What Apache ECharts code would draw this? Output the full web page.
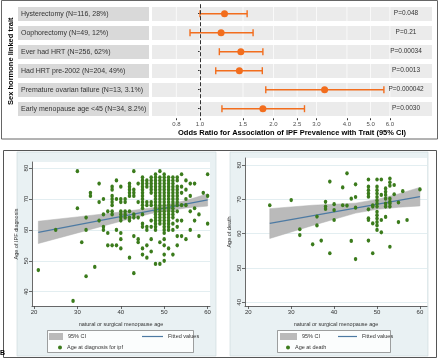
<!DOCTYPE html>
<html>
<head>
<meta charset="utf-8">
<script src="https://cdn.jsdelivr.net/npm/echarts@6/dist/echarts.min.js"></script>
<style>
html,body{margin:0;padding:0;background:#fff}
#main{width:440px;height:360px}
</style>
</head>
<body>
<div id="main"></div>
<script>
// panel A: odds ratios
var traits = [
    'Hysterectomy (N=116, 28%)',
    'Oophorectomy (N=49, 12%)',
    'Ever had HRT (N=256, 62%)',
    'Had HRT pre-2002 (N=204, 49%)',
    'Premature ovarian failure (N=13, 3.1%)',
    'Early menopause age <45 (N=34, 8.2%)'
];
var orEst = [1.26, 1.22, 1.47, 1.45, 3.24, 1.81];
var ciLow = [1.00, 0.91, 1.20, 1.16, 1.86, 1.23];
var ciHigh = [1.56, 1.65, 1.81, 1.80, 5.67, 2.68];
var pVals = ['P=0.048', 'P=0.21', 'P=0.00034', 'P=0.0013', 'P=0.000042', 'P=0.0030'];
var orTicks = [0.8, 1.0, 1.5, 2.0, 2.5, 3.0, 4.0, 5.0, 6.0];

// panel B: menopause age vs age at diagnosis / death
var ageTicks = [20, 30, 40, 50, 60];
var yTicks = [40, 50, 60, 70, 80];
var diagCols = [
    [21, [47]],
    [25, [60]],
    [29, [37]],
    [30, [79, 67]],
    [31, [56]],
    [32, [64, 60, 45]],
    [33, [72, 71]],
    [34, [48]],
    [35, [75, 69, 63]],
    [36, [70, 65, 61, 60]],
    [37, [66, 59, 55]],
    [38, [74, 73, 71, 70, 69, 68, 66, 65, 55]],
    [39, [76, 70, 60, 55]],
    [40, [74, 70, 69, 66, 65, 64, 63, 59, 57, 54]],
    [41, [70, 69, 66, 65, 64]],
    [42, [75, 74, 73, 72, 71, 66, 64, 63, 51]],
    [43, [79, 73, 72, 71, 65, 64, 58, 46]],
    [44, [75, 69, 64, 57, 56]],
    [45, [77, 76, 75, 74, 73, 72, 71, 70, 69, 68, 67, 65, 62, 61, 54, 52]],
    [46, [76, 75, 74, 69, 68, 61, 60, 55, 51]],
    [47, [77, 76, 75, 74, 73, 72, 69, 68, 63, 61, 57, 53]],
    [48, [78, 77, 76, 75, 74, 73, 72, 71, 70, 69, 68, 67, 66, 65, 64, 63, 62, 61, 60, 49]],
    [49, [79, 77, 76, 75, 74, 73, 72, 71, 70, 69, 68, 67, 66, 65, 64, 63, 62, 56, 49]],
    [50, [78, 77, 76, 75, 74, 73, 72, 71, 70, 69, 68, 67, 66, 65, 64, 63, 62, 61, 60, 59, 57, 55, 52, 50]],
    [51, [77, 76, 75, 74, 73, 72, 71, 70, 69, 68, 67, 66, 65, 64, 63, 62, 61, 60, 54]],
    [52, [77, 76, 75, 74, 73, 72, 71, 70, 69, 68, 67, 66, 65, 64, 62, 60, 52]],
    [53, [77, 76, 74, 73, 72, 71, 70, 69, 68, 66, 63, 61, 58, 55]],
    [54, [78, 74, 72, 68, 63, 58]],
    [55, [76, 73, 70, 68, 57]],
    [56, [75, 71, 66, 60]],
    [57, [75, 67, 63]],
    [58, [65, 58]],
    [59, [72]],
    [60, [78, 71, 62]]
];
var deathCols = [
    [25, [68.3]],
    [30, [69.8]],
    [32, [61.3, 59.6]],
    [35, [56.9]],
    [36, [65.0, 62.4]],
    [37, [58.0]],
    [38, [69.3, 67.9, 67.2]],
    [39, [75.2, 54.3]],
    [40, [68.6, 66.9, 64.0]],
    [42, [73.5, 68.3]],
    [43, [77.6, 68.2]],
    [44, [70.2, 57.9]],
    [45, [74.4, 70.7, 67.6, 52.6]],
    [48, [75.8, 73.7, 72.7, 71.7, 70.8, 67.1, 64.5, 64.0, 58.0]],
    [49, [68.3, 67.9, 63.0, 54.3]],
    [50, [75.8, 73.7, 72.7, 71.7, 70.7, 69.7, 68.8, 67.9, 66.4, 65.4, 64.4, 63.4, 62.4, 61.1]],
    [51, [75.8, 71.3, 64.0, 60.4]],
    [52, [73.2, 72.2, 71.3, 70.2, 68.8, 67.9, 64.9]],
    [53, [76.1, 75.0, 74.0, 70.2, 69.3, 68.8, 67.9, 56.2]],
    [54, [74.2, 71.5]],
    [55, [69.1, 63.4]],
    [56, [72.4]],
    [57, [64.0]],
    [60, [72.9]]
];
var fitXL = [21, 60];
var fitYL = [59.2, 69.7];
var ciXL = [21, 30, 40, 47, 55, 60];
var ciLoL = [55.6, 59.0, 62.8, 65.3, 67.1, 67.7];
var ciHiL = [62.8, 64.2, 65.8, 67.1, 69.5, 71.7];
var fitXR = [25, 60];
var fitYR = [63.0, 70.8];
var ciXR = [25, 35, 45, 50, 55, 60];
var ciLoR = [58.6, 62.4, 66.0, 67.1, 67.7, 68.1];
var ciHiR = [67.3, 68.3, 68.9, 70.0, 71.6, 73.5];

var orange = '#f26d1d';
var green = '#3b7b1c';
var fitBlue = '#4d7aa3';
var bandGrey = '#bababa';
var font = 'Liberation Sans, Arial, sans-serif';

function flatten(cols) {
    var out = [];
    cols.forEach(function (c) {
        c[1].forEach(function (v) { out.push([c[0], v]); });
    });
    return out;
}
function pairs(xs, ys) {
    return xs.map(function (x, i) { return [x, ys[i]]; });
}
// CI band as one polygon: upper edge left->right, lower edge back
function bandSeries(idx, xs, lo, hi) {
    return {
        type: 'custom', xAxisIndex: idx, yAxisIndex: idx, z: 1, silent: true,
        data: xs.map(function (x, i) { return [x, lo[i], hi[i]]; }),
        encode: {x: 0, y: [1, 2]},
        renderItem: function (params, api) {
            if (params.dataIndex !== 0) return null;
            var top = xs.map(function (x, i) { return api.coord([x, hi[i]]); });
            var bot = xs.map(function (x, i) { return api.coord([x, lo[i]]); }).reverse();
            return {
                type: 'polygon',
                shape: {points: top.concat(bot)},
                style: {fill: bandGrey, stroke: '#b0b0b0', lineWidth: 0.5}
            };
        }
    };
}

var lnTicks = orTicks.map(Math.log);

var stataX = function (idx, min, max) {
    return {
        type: 'value', gridIndex: idx, min: min, max: max,
        axisLine: {onZero: false, lineStyle: {color: '#444', width: 0.8}},
        axisTick: {length: 3, customValues: ageTicks, lineStyle: {color: '#444', width: 0.8}},
        axisLabel: {customValues: ageTicks, fontSize: 6, color: '#333', margin: 3, fontFamily: font},
        splitLine: {show: false},
        name: 'natural or surgical menopause age', nameLocation: 'middle', nameGap: 15,
        nameTextStyle: {fontSize: 5.5, color: '#333', fontFamily: font}
    };
};
var stataY = function (idx, min, max, title, gap) {
    return {
        type: 'value', gridIndex: idx, min: min, max: max,
        axisLine: {show: true, onZero: false, lineStyle: {color: '#444', width: 0.8}},
        axisTick: {show: true, length: 3, customValues: yTicks, lineStyle: {color: '#444', width: 0.8}},
        axisLabel: {customValues: yTicks, rotate: 90, fontSize: 6, color: '#333', margin: 3, fontFamily: font},
        splitLine: {show: true, lineStyle: {color: '#e3eef1', width: 1}},
        name: title, nameLocation: 'middle', nameGap: gap, nameRotate: 90,
        nameTextStyle: {fontSize: 5.5, color: '#333', fontFamily: font}
    };
};

var legendItem = function (name, left, top, icon, w, h, color) {
    var d = {name: name, icon: icon};
    if (color) d.itemStyle = {color: color};
    return {
        left: left, top: top, padding: 0, selectedMode: false,
        itemWidth: w, itemHeight: h,
        textStyle: {fontSize: 5.5, color: '#333', fontFamily: font, lineHeight: 7},
        data: [d]
    };
};

var option = {
    animation: false,
    textStyle: {fontFamily: font},
    graphic: [
        {type: 'rect', z: -1, silent: true, shape: {x: 17, y: 152, width: 199, height: 204}, style: {fill: '#e9f1f3', stroke: '#c9d7da', lineWidth: 0.6}},
        {type: 'rect', z: -1, silent: true, shape: {x: 230, y: 152, width: 198, height: 204}, style: {fill: '#e9f1f3', stroke: '#c9d7da', lineWidth: 0.6}},
        {type: 'rect', z: -1, silent: true, shape: {x: 47.5, y: 330.5, width: 146, height: 22}, style: {fill: '#fbfdfd', stroke: '#777', lineWidth: 0.7}},
        {type: 'rect', z: -1, silent: true, shape: {x: 277.5, y: 330.5, width: 113, height: 22}, style: {fill: '#fbfdfd', stroke: '#777', lineWidth: 0.7}},
        {type: 'rect', z: 100, silent: true, shape: {x: 1.5, y: 0.5, width: 436, height: 138.5}, style: {fill: 'none', stroke: '#666', lineWidth: 1}},
        {type: 'rect', z: 100, silent: true, shape: {x: 3.5, y: 150.5, width: 433, height: 207}, style: {fill: 'none', stroke: '#555', lineWidth: 1}},
        {type: 'text', z: 101, silent: true, left: 0, top: 350, style: {text: 'B', fontSize: 7, fontWeight: 'bold', fill: '#000', fontFamily: font}}
    ],
    legend: [
        legendItem('95% CI', 49, 333, 'rect', 14, 7, bandGrey),
        legendItem('Fitted values', 142, 333, 'rect', 21, 1.2, fitBlue),
        legendItem('Age at diagnosis for ipf', 58, 344, 'circle', 4, 5, green),
        legendItem('95% CI', 280, 333, 'rect', 17, 7, bandGrey),
        legendItem('Fitted values', 338, 333, 'rect', 19, 1.2, fitBlue),
        legendItem('Age at death', 286, 344, 'circle', 4, 5, green)
    ],
    grid: [
        {left: 18, top: 4.2, width: 131, height: 114},
        {left: 152, top: 4.2, width: 280, height: 114},
        {left: 32, top: 162, width: 178, height: 144, show: true, backgroundColor: '#fff', borderWidth: 0},
        {left: 245, top: 158, width: 182, height: 148, show: true, backgroundColor: '#fff', borderWidth: 0}
    ],
    xAxis: [
        {type: 'value', gridIndex: 0, min: 0, max: 1, show: false},
        {
            type: 'value', gridIndex: 1, min: -0.453, max: 2.189,
            axisLine: {show: false},
            axisTick: {show: true, length: 2, customValues: lnTicks, lineStyle: {color: '#333'}},
            axisLabel: {
                customValues: lnTicks, fontSize: 6, color: '#4d4d4d', margin: 3,
                formatter: function (v) { return Math.exp(v).toFixed(1); }
            },
            splitLine: {show: false},
            name: 'Odds Ratio for Association of IPF Prevalence with Trait (95% CI)',
            nameLocation: 'middle', nameGap: 11,
            nameTextStyle: {fontSize: 7.5, fontWeight: 'bold', color: '#000'}
        },
        stataX(2, 19.54, 60.55),
        stataX(3, 19.23, 61.65)
    ],
    yAxis: [
        {
            type: 'category', gridIndex: 0, data: traits, inverse: true,
            axisLine: {show: false}, axisTick: {show: false},
            axisLabel: {inside: true, margin: 3, fontSize: 7, color: '#333'},
            splitArea: {show: true, areaStyle: {color: ['#d9d9d9']}},
            splitLine: {show: true, lineStyle: {color: '#fff', width: 5}},
            name: 'Sex hormone linked trait', nameLocation: 'middle', nameGap: 3, nameRotate: 90,
            nameTextStyle: {fontSize: 7.5, fontWeight: 'bold', color: '#000'}
        },
        {
            type: 'category', gridIndex: 1, data: traits, inverse: true,
            axisLine: {show: false},
            axisTick: {show: true, length: 2, alignWithLabel: true, lineStyle: {color: '#333'}},
            axisLabel: {show: false},
            splitArea: {show: true, areaStyle: {color: ['#ebebeb']}},
            splitLine: {show: true, lineStyle: {color: '#fff', width: 5}}
        },
        stataY(2, 35.37, 81.97, 'Age of IPF diagnosis', 13),
        stataY(3, 38.92, 82.07, 'Age of death', 13)
    ],
    series: [
        // white vertical grid lines over the row bands
        {
            type: 'custom', xAxisIndex: 1, yAxisIndex: 1, z: 1, silent: true,
            data: lnTicks.map(function (v) { return [v, 0]; }),
            encode: {x: 0, y: 1},
            renderItem: function (params, api) {
                var p = api.coord([api.value(0), 0]);
                var cs = params.coordSys;
                return {
                    type: 'line',
                    shape: {x1: p[0], y1: cs.y, x2: p[0], y2: cs.y + cs.height},
                    style: {stroke: '#fff', lineWidth: 0.8, opacity: 0.9}
                };
            }
        },
        {
            type: 'custom', xAxisIndex: 1, yAxisIndex: 1, z: 3,
            data: traits.map(function (t, i) { return [Math.log(ciLow[i]), Math.log(ciHigh[i]), i]; }),
            encode: {x: [0, 1], y: 2},
            renderItem: function (params, api) {
                var row = api.value(2);
                var a = api.coord([api.value(0), row]);
                var b = api.coord([api.value(1), row]);
                var cap = 3.5;
                var st = {stroke: orange, lineWidth: 1.4};
                return {
                    type: 'group',
                    children: [
                        {type: 'line', shape: {x1: a[0], y1: a[1], x2: b[0], y2: b[1]}, style: st},
                        {type: 'line', shape: {x1: a[0], y1: a[1] - cap, x2: a[0], y2: a[1] + cap}, style: st},
                        {type: 'line', shape: {x1: b[0], y1: b[1] - cap, x2: b[0], y2: b[1] + cap}, style: st},
                        {
                            type: 'text', x: params.coordSys.x + params.coordSys.width - 26, y: a[1],
                            style: {text: pVals[params.dataIndex], fontSize: 6.5, fill: '#333', align: 'center', verticalAlign: 'middle', fontFamily: font}
                        }
                    ]
                };
            }
        },
        {
            type: 'scatter', xAxisIndex: 1, yAxisIndex: 1, z: 4,
            symbolSize: 7, itemStyle: {color: orange, opacity: 1},
            data: orEst.map(function (v, i) { return [Math.log(v), i]; }),
            markLine: {
                silent: true, symbol: 'none', label: {show: false},
                lineStyle: {type: 'dashed', color: '#333', width: 1},
                data: [{xAxis: 0}]
            }
        },
        // left panel
        bandSeries(2, ciXL, ciLoL, ciHiL),
        {
            type: 'line', name: '95% CI', xAxisIndex: 2, yAxisIndex: 2, data: [],
            itemStyle: {color: bandGrey}
        },
        {
            type: 'line', name: 'Fitted values', xAxisIndex: 2, yAxisIndex: 2, symbol: 'none',
            itemStyle: {color: fitBlue}, lineStyle: {color: fitBlue, width: 1.2},
            data: pairs(fitXL, fitYL), z: 2
        },
        {
            type: 'scatter', name: 'Age at diagnosis for ipf', xAxisIndex: 2, yAxisIndex: 2,
            symbolSize: [3.5, 4.2], itemStyle: {color: green, opacity: 1}, data: flatten(diagCols), z: 3
        },
        // right panel
        bandSeries(3, ciXR, ciLoR, ciHiR),
        {
            type: 'line', name: 'Fitted values', xAxisIndex: 3, yAxisIndex: 3, symbol: 'none',
            itemStyle: {color: fitBlue}, lineStyle: {color: fitBlue, width: 1.2},
            data: pairs(fitXR, fitYR), z: 2
        },
        {
            type: 'scatter', name: 'Age at death', xAxisIndex: 3, yAxisIndex: 3,
            symbolSize: [3.5, 4.2], itemStyle: {color: green, opacity: 1}, data: flatten(deathCols), z: 3
        }
    ]
};

var chart = echarts.init(document.getElementById('main'));
chart.setOption(option);
</script>
</body>
</html>
